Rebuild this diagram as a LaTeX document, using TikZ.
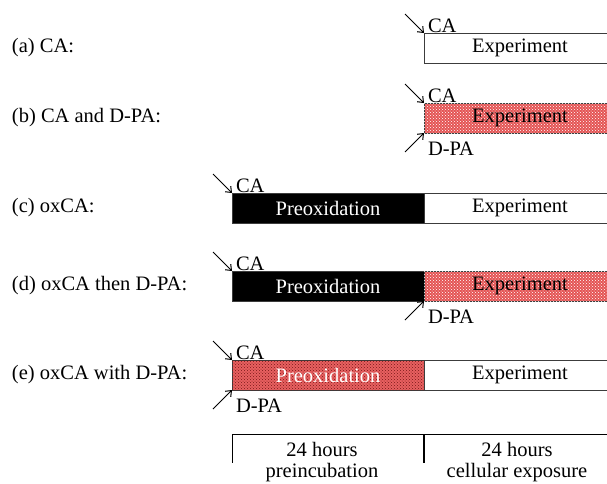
\documentclass[tikz,border=0pt]{standalone}
\usepackage{fontspec}
\setmainfont{Liberation Serif}
\usetikzlibrary{arrows.meta,patterns}
\definecolor{redbase}{RGB}{228,84,84}
\definecolor{redlight}{RGB}{232,96,96}
\definecolor{reddots}{RGB}{120,25,25}
\definecolor{edgegray}{RGB}{60,60,60}
\begin{document}
\begin{tikzpicture}[x=1pt,y=-1pt,
  txt/.style={font=\fontsize{20.5}{24}\selectfont, inner sep=0pt, outer sep=0pt},
  boxbase/.style={txt, draw=edgegray, line width=1pt, minimum height=30pt, minimum width=192pt, anchor=north west},
  wbox/.style={boxbase, fill=white},
  kbox/.style={boxbase, fill=black, text=white},
  rbox/.style={boxbase, fill=redbase, postaction={pattern=crosshatch dots, pattern color=white}},
  rboxe/.style={boxbase, fill=redlight, text=white, postaction={pattern=crosshatch dots, pattern color=reddots}},
  ptr/.style={line width=1pt, -{Straight Barb[length=5pt,width=8pt]}},
  rowlabel/.style={txt, anchor=west},
  sublabel/.style={txt, anchor=base west},
]
\useasboundingbox (0,0) rectangle (607,483);
\clip (0,0) rectangle (607,483);

% (a)
\node[rowlabel] (la) at (12,48) {(a) CA:};
\node[wbox] (a) at (424,33) {Experiment};
\coordinate (a-s) at ([shift={(-19,-19)}]a.north west);
\draw[ptr] (a-s) -- (a.north west);
\node[sublabel] (a-ca) at ([shift={(4,-1)}]a.north west) {CA};

% (b)
\node[rowlabel] (lb) at (12,118) {(b) CA and D-PA:};
\node[rbox] (b) at (424,103) {Experiment};
\coordinate (b-s) at ([shift={(-19,-19)}]b.north west);
\draw[ptr] (b-s) -- (b.north west);
\node[sublabel] (b-ca) at ([shift={(4,-1)}]b.north west) {CA};
\coordinate (b-d) at ([shift={(-19,19)}]b.south west);
\draw[ptr] (b-d) -- (b.south west);
\node[sublabel] (b-dpa) at ([shift={(4,22)}]b.south west) {D-PA};

% (c)
\node[rowlabel] (lc) at (12,208) {(c) oxCA:};
\node[kbox] (c1) at (232,193) {Preoxidation\hspace{12pt}};
\node[wbox] (c2) at (424,193) {Experiment};
\coordinate (c-s) at ([shift={(-19,-19)}]c1.north west);
\draw[ptr] (c-s) -- (c1.north west);
\node[sublabel] (c-ca) at ([shift={(4,-1)}]c1.north west) {CA};

% (d)
\node[rowlabel] (ld) at (12,286) {(d) oxCA then D-PA:};
\node[kbox] (d1) at (232,271) {Preoxidation\hspace{12pt}};
\node[rbox] (d2) at (424,271) {Experiment};
\coordinate (d-s) at ([shift={(-19,-19)}]d1.north west);
\draw[ptr] (d-s) -- (d1.north west);
\node[sublabel] (d-ca) at ([shift={(4,-1)}]d1.north west) {CA};
\coordinate (d-d) at ([shift={(-19,19)}]d2.south west);
\draw[ptr] (d-d) -- (d2.south west);
\node[sublabel] (d-dpa) at ([shift={(4,22)}]d2.south west) {D-PA};

% (e)
\node[rowlabel] (le) at (12,375) {(e) oxCA with D-PA:};
\node[rboxe] (e1) at (232,360) {Preoxidation\hspace{12pt}};
\node[wbox] (e2) at (424,360) {Experiment};
\coordinate (e-s) at ([shift={(-19,-19)}]e1.north west);
\draw[ptr] (e-s) -- (e1.north west);
\node[sublabel] (e-ca) at ([shift={(4,-1)}]e1.north west) {CA};
\coordinate (e-d) at ([shift={(-19,19)}]e1.south west);
\draw[ptr] (e-d) -- (e1.south west);
\node[sublabel] (e-dpa) at ([shift={(4,22)}]e1.south west) {D-PA};

% time scale
\coordinate (t0) at (232,434);
\coordinate (t1) at (424,434);
\coordinate (t2) at (616,434);
\coordinate (t0b) at (232,463);
\coordinate (t1b) at (424,463);
\draw[line width=1pt] (t0) -- (t2);
\draw[line width=1pt] (t0) -- (t0b);
\draw[line width=1.6pt] (t1) -- (t1b);
\node[txt, anchor=base] (h1) at (322,456) {24 hours};
\node[txt, anchor=base] (p1) at (322,477) {preincubation};
\node[txt, anchor=base] (h2) at (517,456) {24 hours};
\node[txt, anchor=base] (p2) at (517,477) {cellular exposure};
\end{tikzpicture}
\end{document}
